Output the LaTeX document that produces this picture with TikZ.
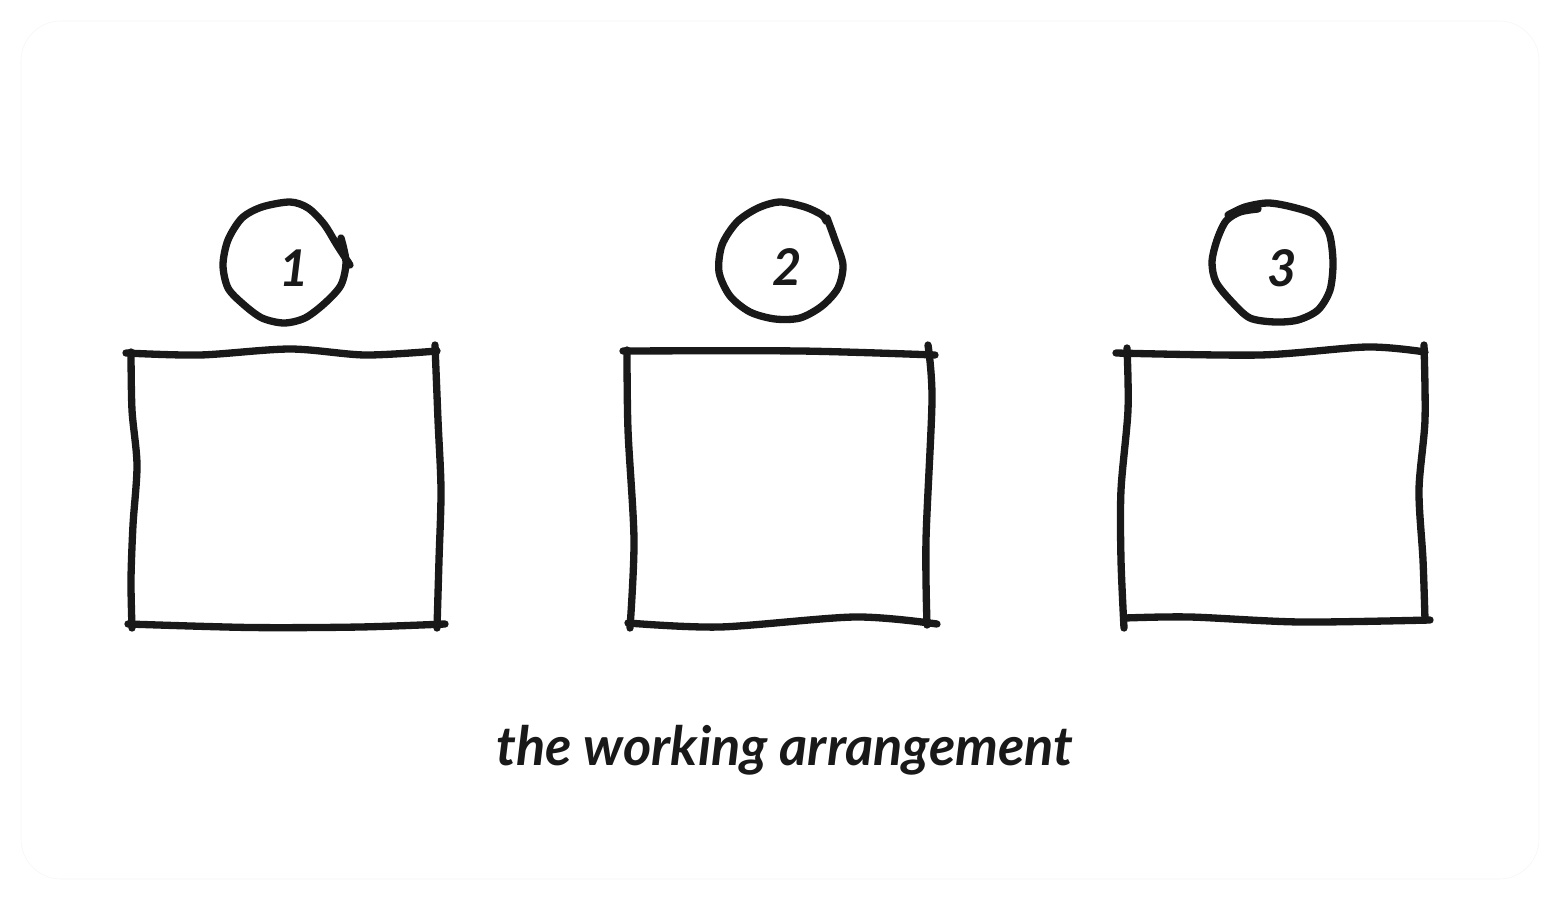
\documentclass[tikz,border=0pt]{standalone}
\usepackage{fontspec}
\usepackage{tikz}
\newfontfamily\handfont{Lato}

\begin{document}
\begin{tikzpicture}[x=0.025cm,y=-0.025cm,
    pen/.style={line width=5.2pt,line cap=round,line join=round,draw=black!90},
    digit/.style={font=\handfont\bfseries\itshape\fontsize{36}{36}\selectfont,text=black!90}]
    \useasboundingbox (0,0) rectangle (1560,900);
    \draw[black!4,line width=0.4pt,rounded corners=1cm] (21,21) rectangle (1539,879);

    % box 1
    \draw[pen] plot[smooth] coordinates {(126,353) (200,355) (290,349) (365,355) (437,351)};
    \draw[pen] plot[smooth] coordinates {(435,345) (438,420) (441,490) (439,560) (437,628)};
    \draw[pen] plot[smooth] coordinates {(128,624) (250,627.5) (360,627) (445,624)};
    \draw[pen] plot[smooth] coordinates {(131,352) (132,410) (137,465) (133,525) (131,580) (132,628)};

    % box 2
    \draw[pen] plot[smooth] coordinates {(623,351) (800,351) (935,355)};
    \draw[pen] plot[smooth] coordinates {(928,345) (932,400) (926,540) (927,625)};
    \draw[pen] plot[smooth] coordinates {(628,623) (720,627) (855,617) (937,624)};
    \draw[pen] plot[smooth] coordinates {(627,350) (628,430) (634,540) (630,628)};

    % box 3
    \draw[pen] plot[smooth] coordinates {(1116,353) (1260,355) (1367,347) (1425,352)};
    \draw[pen] plot[smooth] coordinates {(1424,345) (1425,420) (1419,490) (1423,560) (1425,620)};
    \draw[pen] plot[smooth] coordinates {(1125,618) (1190,617) (1300,622) (1430,620)};
    \draw[pen] plot[smooth] coordinates {(1127,348) (1128,410) (1121,490) (1121,560) (1124,628)};

    % circles
    \draw[pen] plot[smooth] coordinates {(341,238) (346,262) (341,285) (325,303) (305,318) (284,323)
        (262,318) (243,304) (228,288) (223,265) (228,240) (242,218) (262,207) (290,202)
        (308,208) (324,224) (337,245) (350,265)};
    \draw[pen] plot[smooth] coordinates {(827,218) (835,240) (843,265) (838,288) (822,306) (800,318)
        (775,319) (750,312) (730,296) (719,272) (722,245) (737,222) (758,208) (780,202)
        (805,207) (822,215) (826,221)};
    \draw[pen] plot[smooth] coordinates {(1228,215) (1245,207) (1268,203) (1292,207) (1315,215)
        (1329,233) (1333,262) (1330,290) (1318,310) (1298,320) (1275,322) (1250,318)
        (1232,302) (1216,282) (1212,262) (1217,240) (1226,221) (1240,212) (1258,209)};

    \node[digit] (one) at (294,268) {1};
    \node[digit] (two) at (787,267) {2};
    \node[digit] (three) at (1282,268) {3};

    \node[font=\handfont\bfseries\itshape\fontsize{38.5}{38.5}\selectfont,text=black!90,anchor=base]
        (caption) at (785,765) {the working arrangement};
\end{tikzpicture}
\end{document}
